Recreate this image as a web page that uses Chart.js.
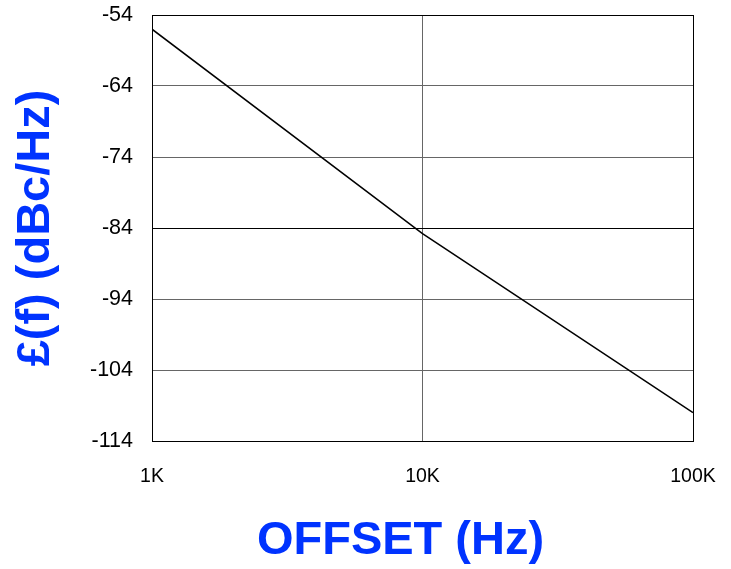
<!DOCTYPE html>
<html>
<head>
<meta charset="utf-8">
<script src="https://cdn.jsdelivr.net/npm/chart.js@4.4.1/dist/chart.umd.min.js"></script>
<style>
  html, body { margin: 0; padding: 0; background: #fff; }
  #wrap { width: 731px; height: 569px; }
</style>
</head>
<body>
<div id="wrap"><canvas id="noiseChart"></canvas></div>
<script>
// offset frequency (Hz) and phase noise (dBc/Hz)
const offsetHz = [1000, 10000, 100000];
const phaseNoise = [-56, -84.8, -110];

const xTicks = [1000, 10000, 100000];
const xTickLabels = ['1K', '10K', '100K'];
const yTicks = [-114, -104, -94, -84, -74, -64, -54];

const blue = '#0033ff';
const fontFamily = 'Liberation Sans, Arial, sans-serif';
const titleFont = { family: fontFamily, size: 47, weight: 'bold' };

const ctx = document.getElementById('noiseChart');

new Chart(ctx, {
  type: 'line',
  data: {
    datasets: [{
      data: offsetHz.map((f, i) => ({ x: f, y: phaseNoise[i] })),
      borderColor: '#000',
      borderWidth: 1.5,
      pointRadius: 0,
      tension: 0,
      fill: false
    }]
  },
  options: {
    responsive: true,
    maintainAspectRatio: false,
    animation: false,
    layout: {
      padding: { left: 0, right: 38, top: 15, bottom: 0 }
    },
    plugins: {
      legend: { display: false },
      tooltip: { enabled: false }
    },
    scales: {
      x: {
        type: 'logarithmic',
        min: 1000,
        max: 100000,
        afterBuildTicks: (scale) => {
          scale.ticks = xTicks.map(v => ({ value: v }));
        },
        afterFit: (scale) => {
          scale.height = 128;
          // labels may overhang the plot edges, keep the plot box fixed
          scale.paddingLeft = 0;
          scale.paddingRight = 0;
          // the original title sits a bit left of the plot centre
          if (!scale._titleShifted) {
            const drawTitle = scale.drawTitle;
            scale.drawTitle = function () {
              this.ctx.save();
              this.ctx.translate(-22, 0);
              drawTitle.call(this);
              this.ctx.restore();
            };
            scale._titleShifted = true;
          }
        },
        ticks: {
          color: '#000',
          font: { family: fontFamily, size: 19.5 },
          padding: 24,
          maxRotation: 0,
          autoSkip: false,
          callback: (value) => xTickLabels[xTicks.indexOf(value)]
        },
        grid: {
          drawTicks: false,
          color: (c) => (c.tick && c.tick.value === 100000) ? '#000' : '#666',
          lineWidth: 1
        },
        border: { display: true, color: '#000', width: 1 },
        title: {
          display: true,
          text: 'OFFSET (Hz)',
          color: blue,
          font: titleFont,
          padding: { top: 0, bottom: 0 }
        }
      },
      y: {
        min: -114,
        max: -54,
        afterBuildTicks: (scale) => {
          scale.ticks = yTicks.map(v => ({ value: v }));
        },
        afterFit: (scale) => {
          scale.width = 152;
          scale.paddingTop = 0;
          scale.paddingBottom = 0;
        },
        ticks: {
          color: '#000',
          font: { family: fontFamily, size: 21.5 },
          padding: 19
        },
        grid: {
          drawTicks: false,
          color: (c) => {
            const v = c.tick ? c.tick.value : null;
            return (v === -54 || v === -84) ? '#000' : '#666';
          },
          lineWidth: 1
        },
        border: { display: true, color: '#000', width: 1 },
        title: {
          display: true,
          text: '£(f) (dBc/Hz)',
          color: blue,
          font: titleFont,
          padding: { top: 8, bottom: 0 }
        }
      }
    }
  }
});
</script>
</body>
</html>
